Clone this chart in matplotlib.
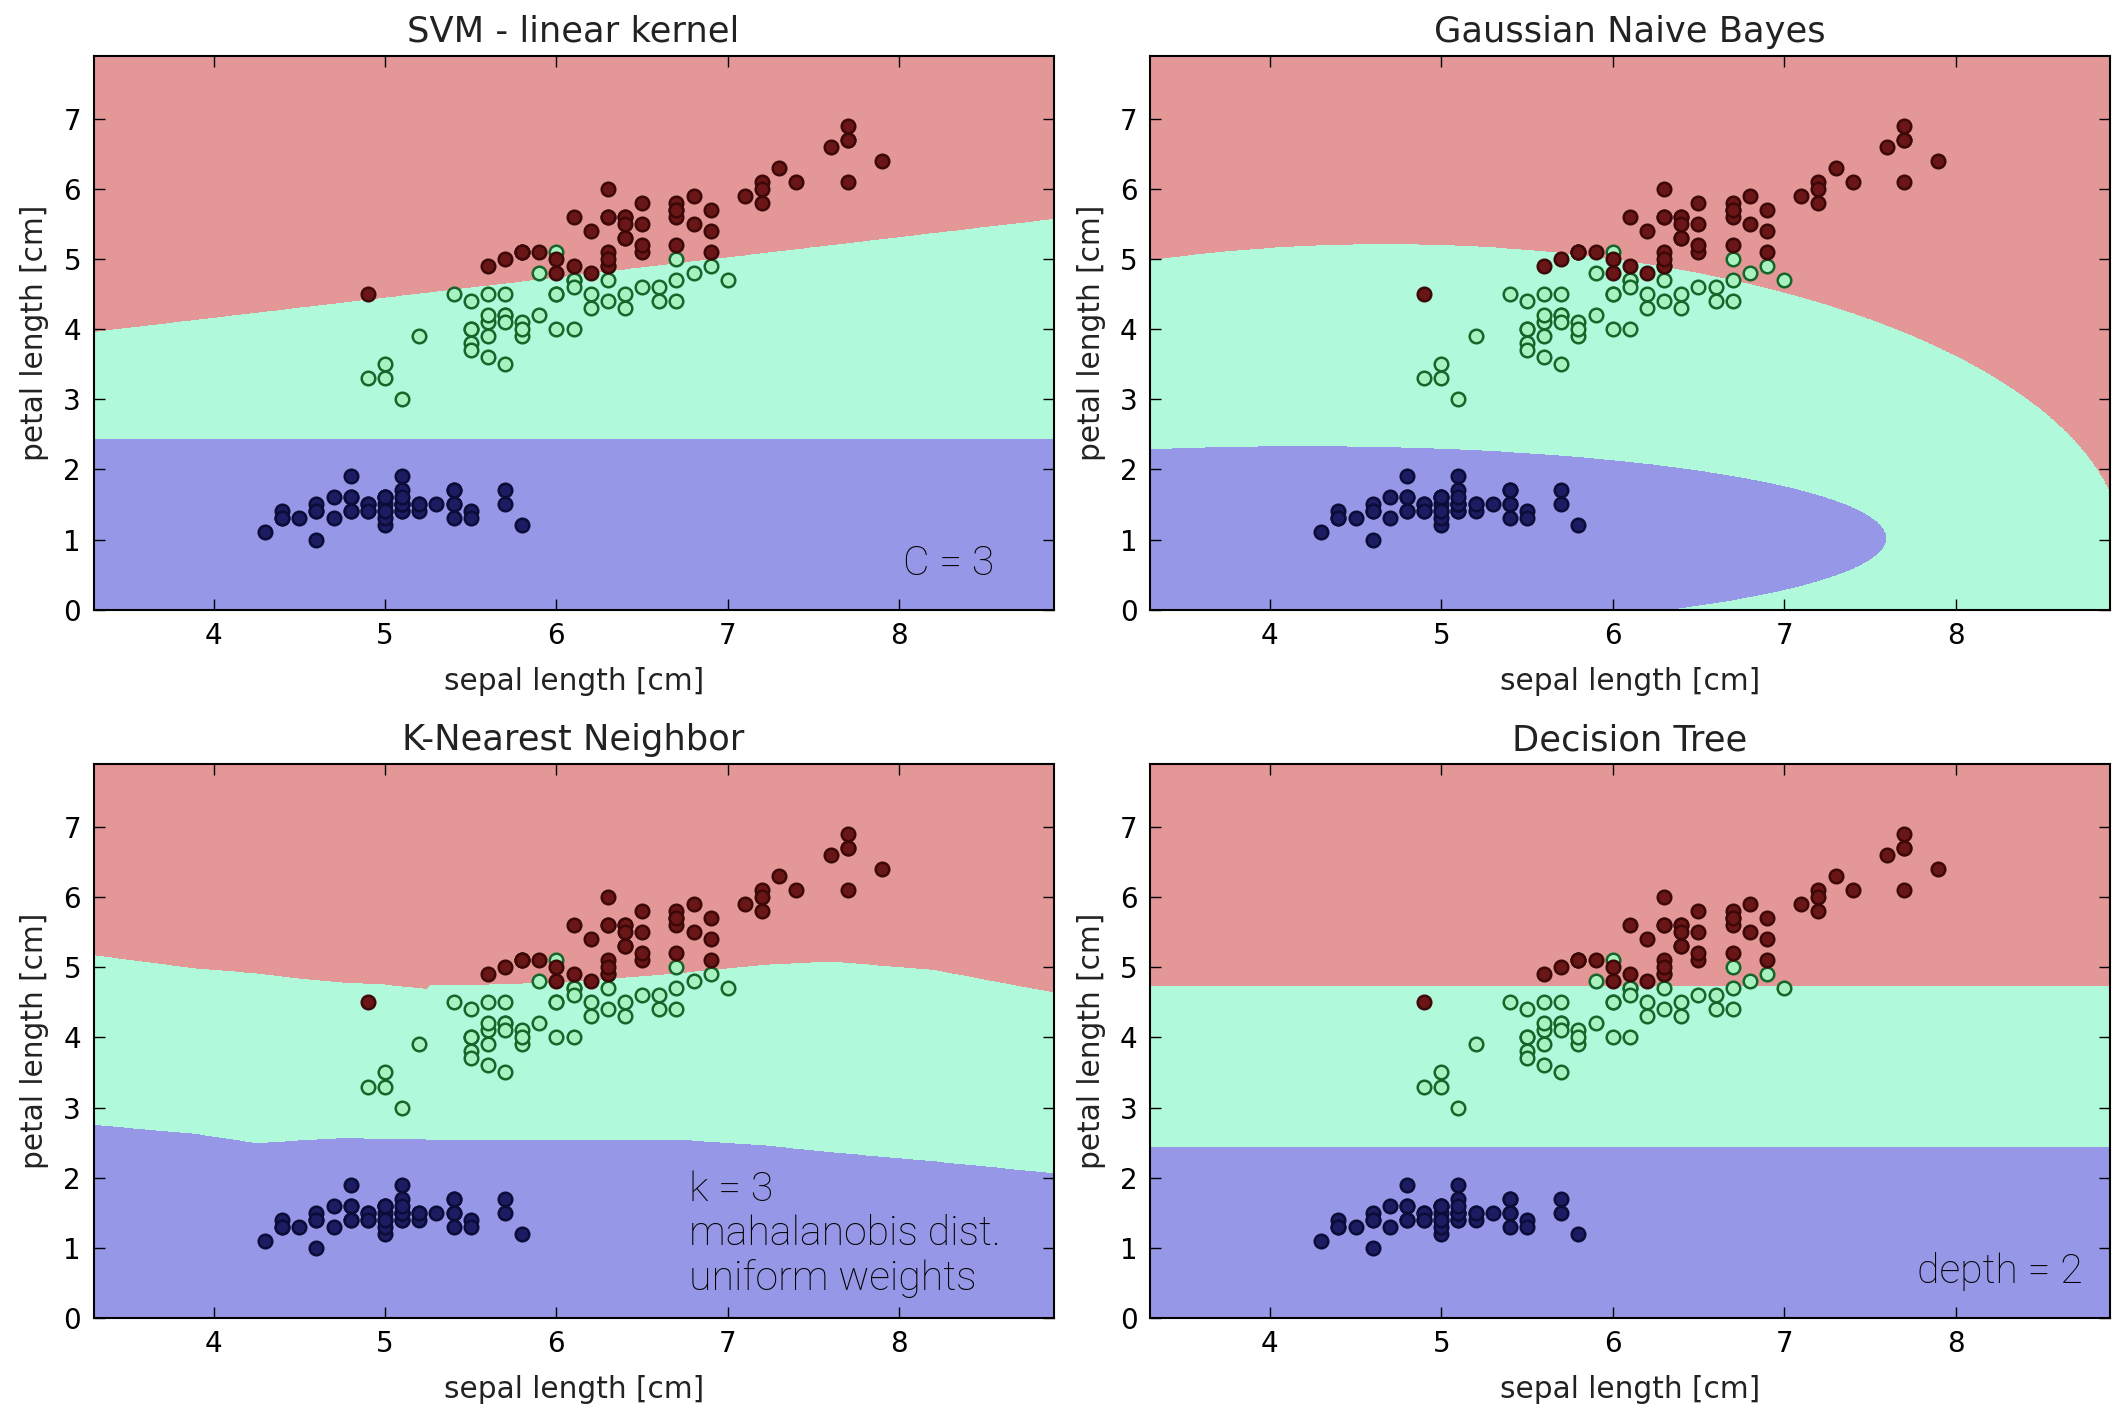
import numpy as np
import matplotlib
matplotlib.use('Agg')
import matplotlib.pyplot as plt
from matplotlib.colors import ListedColormap

# iris: sepal length and petal length [cm] per species
setosa_sepal = [5.1, 4.9, 4.7, 4.6, 5.0, 5.4, 4.6, 5.0, 4.4, 4.9,
                5.4, 4.8, 4.8, 4.3, 5.8, 5.7, 5.4, 5.1, 5.7, 5.1,
                5.4, 5.1, 4.6, 5.1, 4.8, 5.0, 5.0, 5.2, 5.2, 4.7,
                4.8, 5.4, 5.2, 5.5, 4.9, 5.0, 5.5, 4.9, 4.4, 5.1,
                5.0, 4.5, 4.4, 5.0, 5.1, 4.8, 5.1, 4.6, 5.3, 5.0]
setosa_petal = [1.4, 1.4, 1.3, 1.5, 1.4, 1.7, 1.4, 1.5, 1.4, 1.5,
                1.5, 1.6, 1.4, 1.1, 1.2, 1.5, 1.3, 1.4, 1.7, 1.5,
                1.7, 1.5, 1.0, 1.7, 1.9, 1.6, 1.6, 1.5, 1.4, 1.6,
                1.6, 1.5, 1.5, 1.4, 1.5, 1.2, 1.3, 1.4, 1.3, 1.5,
                1.3, 1.3, 1.3, 1.6, 1.9, 1.4, 1.6, 1.4, 1.5, 1.4]
versicolor_sepal = [7.0, 6.4, 6.9, 5.5, 6.5, 5.7, 6.3, 4.9, 6.6, 5.2,
                    5.0, 5.9, 6.0, 6.1, 5.6, 6.7, 5.6, 5.8, 6.2, 5.6,
                    5.9, 6.1, 6.3, 6.1, 6.4, 6.6, 6.8, 6.7, 6.0, 5.7,
                    5.5, 5.5, 5.8, 6.0, 5.4, 6.0, 6.7, 6.3, 5.6, 5.5,
                    5.5, 6.1, 5.8, 5.0, 5.6, 5.7, 5.7, 6.2, 5.1, 5.7]
versicolor_petal = [4.7, 4.5, 4.9, 4.0, 4.6, 4.5, 4.7, 3.3, 4.6, 3.9,
                    3.5, 4.2, 4.0, 4.7, 3.6, 4.4, 4.5, 4.1, 4.5, 3.9,
                    4.8, 4.0, 4.9, 4.7, 4.3, 4.4, 4.8, 5.0, 4.5, 3.5,
                    3.8, 3.7, 3.9, 5.1, 4.5, 4.5, 4.7, 4.4, 4.1, 4.0,
                    4.4, 4.6, 4.0, 3.3, 4.2, 4.2, 4.2, 4.3, 3.0, 4.1]
virginica_sepal = [6.3, 5.8, 7.1, 6.3, 6.5, 7.6, 4.9, 7.3, 6.7, 7.2,
                   6.5, 6.4, 6.8, 5.7, 5.8, 6.4, 6.5, 7.7, 7.7, 6.0,
                   6.9, 5.6, 7.7, 6.3, 6.7, 7.2, 6.2, 6.1, 6.4, 7.2,
                   7.4, 7.9, 6.4, 6.3, 6.1, 7.7, 6.3, 6.4, 6.0, 6.9,
                   6.7, 6.9, 5.8, 6.8, 6.7, 6.7, 6.3, 6.5, 6.2, 5.9]
virginica_petal = [6.0, 5.1, 5.9, 5.6, 5.8, 6.6, 4.5, 6.3, 5.8, 6.1,
                   5.1, 5.3, 5.5, 5.0, 5.1, 5.3, 5.5, 6.7, 6.9, 5.0,
                   5.7, 4.9, 6.7, 4.9, 5.7, 6.0, 4.8, 4.9, 5.6, 5.8,
                   6.1, 6.4, 5.6, 5.1, 5.6, 6.1, 5.6, 5.5, 4.8, 5.4,
                   5.6, 5.1, 5.1, 5.9, 5.7, 5.2, 5.0, 5.2, 5.4, 5.1]

titles = ['SVM - linear kernel', 'Gaussian Naive Bayes',
          'K-Nearest Neighbor', 'Decision Tree']

# linear svm (C = 3): setosa cut and versicolor/virginica line
svm_setosa_cut = 2.45
svm_intercept, svm_slope = 3.02, 0.2875
# knn (k = 3, mahalanobis) region borders along sepal length
knn_sepal = [3.3, 3.9, 4.25, 4.45, 4.75, 5.0, 5.24, 5.26, 5.6, 6.0,
             6.4, 6.7, 7.2, 7.6, 8.2, 8.9]
knn_upper = [5.18, 4.99, 4.92, 4.86, 4.79, 4.76, 4.70, 4.76, 4.76, 4.79,
             4.86, 4.92, 5.04, 5.09, 4.97, 4.65]
knn_lower = [2.76, 2.63, 2.50, 2.53, 2.57, 2.56, 2.55, 2.55, 2.55, 2.54,
             2.55, 2.55, 2.47, 2.37, 2.24, 2.07]
# decision tree (depth = 2) thresholds on petal length
tree_cuts = [2.45, 4.75]

X = np.column_stack([setosa_sepal + versicolor_sepal + virginica_sepal,
                     setosa_petal + versicolor_petal + virginica_petal])
y = np.repeat([0, 1, 2], 50)

region_cmap = ListedColormap(['#9797e7', '#b0fadb', '#e49797'])
point_face = ['#1c1c62', '#a8f2c2', '#6a1616']
point_edge = ['#0c0c38', '#16662a', '#3c0808']


def svm_predict(g):
    z = np.where(g[:, 1] > svm_intercept + svm_slope * g[:, 0], 2, 1)
    return np.where(g[:, 1] < svm_setosa_cut, 0, z)


def gnb_predict(g):
    eps = 1e-9 * X.var(axis=0).max()
    scores = []
    for c in range(3):
        mu = X[y == c].mean(axis=0)
        var = X[y == c].var(axis=0) + eps
        ll = -0.5 * np.sum(np.log(2 * np.pi * var)) - 0.5 * np.sum((g - mu) ** 2 / var, axis=1)
        scores.append(ll + np.log(np.mean(y == c)))
    return np.argmax(np.column_stack(scores), axis=1)


def knn_predict(g):
    up = np.interp(g[:, 0], knn_sepal, knn_upper)
    lo = np.interp(g[:, 0], knn_sepal, knn_lower)
    return np.where(g[:, 1] < lo, 0, np.where(g[:, 1] < up, 1, 2))


def tree_predict(g):
    return np.digitize(g[:, 1], tree_cuts)


models = [svm_predict, gnb_predict, knn_predict, tree_predict]

x_min, x_max = X[:, 0].min() - 1, X[:, 0].max() + 1
y_min, y_max = X[:, 1].min() - 1, X[:, 1].max() + 1
xx, yy = np.meshgrid(np.arange(x_min, x_max + 0.005, 0.005),
                     np.arange(y_min, y_max + 0.005, 0.005))
grid = np.column_stack([xx.ravel(), yy.ravel()])

plt.rcParams['font.family'] = 'DejaVu Sans'
plt.rcParams['font.size'] = 20
fig, axes = plt.subplots(2, 2, figsize=(21.13, 14.11), dpi=100)
fig.subplots_adjust(left=0.0443, right=0.9985, bottom=0.066, top=0.9605,
                    wspace=0.1004, hspace=0.2787)

for ax, title, model in zip(axes.ravel(), titles, models):
    Z = model(grid).reshape(xx.shape)
    ax.contourf(xx, yy, Z, levels=[-0.5, 0.5, 1.5, 2.5], cmap=region_cmap)
    for c in range(3):
        ax.scatter(X[y == c, 0], X[y == c, 1], s=95, c=point_face[c],
                   edgecolors=point_edge[c], linewidths=1.8, zorder=3)
    ax.set_xlim(x_min, x_max)
    ax.set_ylim(y_min, y_max)
    ax.set_xticks([4, 5, 6, 7, 8])
    ax.set_yticks(range(8))
    ax.tick_params(direction='in', top=True, right=True, length=8, width=1,
                   labelsize=20, pad=9)
    for sp in ax.spines.values():
        sp.set_linewidth(1.5)
    ax.set_title(title, fontsize=25.4, pad=10, color='#222222')
    ax.set_xlabel('sepal length [cm]', fontsize=21.3, labelpad=12, color='#222222')
    ax.set_ylabel('petal length [cm]', fontsize=21.3, labelpad=10, color='#222222')

# parameter notes inside the panels
note = dict(family=['Roboto', 'DejaVu Sans'], fontweight='light', fontsize=29.5,
            color='black')
axes[0, 0].text(0.938, 0.062, 'C = 3', ha='right', va='baseline',
                transform=axes[0, 0].transAxes, **note)
axes[1, 0].text(0.62, 0.051, 'k = 3\nmahalanobis dist.\nuniform weights',
                ha='left', va='baseline', linespacing=1.18,
                transform=axes[1, 0].transAxes, **note)
axes[1, 1].text(0.972, 0.063, 'depth = 2', ha='right', va='baseline',
                transform=axes[1, 1].transAxes, **note)

plt.savefig('out.png', dpi=100)
